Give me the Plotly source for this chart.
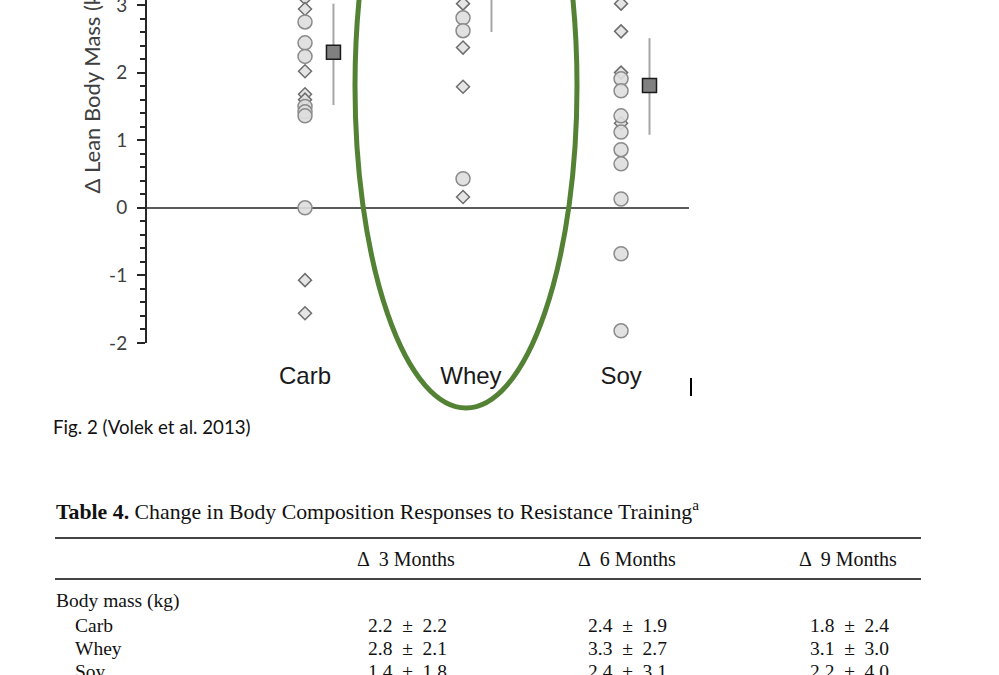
import plotly.graph_objects as go

# ---------------- data ----------------
categories = ["Carb", "Whey", "Soy"]

carb_circle = [2.75, 2.44, 2.24, 1.50, 1.42, 1.36, 0.0]
carb_diamond = [3.10, 2.94, 2.02, 1.68, 1.60, -1.07, -1.56]
whey_circle = [2.81, 2.62, 0.43]
whey_diamond = [3.02, 2.37, 1.79, 0.16]
soy_circle = [1.91, 1.73, 1.36, 1.12, 0.86, 0.65, 0.13, -0.68, -1.82]
soy_diamond = [3.02, 2.61, 2.00, 1.25]

group_means = [2.30, 3.30, 1.81]
err_plus = [0.72, 0.70, 0.70]
err_minus = [0.78, 0.70, 0.73]

y_ticks = [-2, -1, 0, 1, 2, 3]
y_tick_text = ["-2", "-1", "0", "1", "2", "3"]

table_title = "<b>Table 4.</b> Change in Body Composition Responses to Resistance Training<sup>a</sup>"
table_cols = ["Δ 3 Months", "Δ 6 Months", "Δ 9 Months"]
table_section = "Body mass (kg)"
table_rows = ["Carb", "Whey", "Soy"]
vals_3m = ["2.2 ± 2.2", "2.8 ± 2.1", "1.4 ± 1.8"]
vals_6m = ["2.4 ± 1.9", "3.3 ± 2.7", "2.4 ± 3.1"]
vals_9m = ["1.8 ± 2.4", "3.1 ± 3.0", "2.2 ± 4.0"]
caption = "Fig. 2 (Volek et al. 2013)"

# ---------------- layout geometry ----------------
W, H = 999, 675
L, R, T, B = 147, 689, 0, 343  # plot area in pixels


def px(x):
    return (x - L) / (R - L)


def py(y):
    return (B - y) / (B - T)


fig = go.Figure()

circle_style = dict(symbol="circle", size=14, color="rgba(222,222,222,0.9)",
                    line=dict(color="#8a8a8a", width=1.5))
diamond_style = dict(symbol="diamond", size=10, color="rgba(226,226,226,0.9)",
                     line=dict(color="#6e6e6e", width=1.5))

groups = [(carb_circle, carb_diamond), (whey_circle, whey_diamond), (soy_circle, soy_diamond)]
for gi, (circ, diam) in enumerate(groups):
    xpos = gi + 1
    fig.add_trace(go.Scatter(x=[xpos] * len(diam), y=diam, mode="markers",
                             marker=diamond_style, showlegend=False))
    fig.add_trace(go.Scatter(x=[xpos] * len(circ), y=circ, mode="markers",
                             marker=circle_style, showlegend=False))

mean_offset = 0.18
fig.add_trace(go.Scatter(
    x=[i + 1 + mean_offset for i in range(len(categories))], y=group_means,
    mode="markers",
    marker=dict(symbol="square", size=14, color="#808080",
                line=dict(color="#1a1a1a", width=1.5)),
    error_y=dict(type="data", symmetric=False, array=err_plus, arrayminus=err_minus,
                 color="#a6a6a6", thickness=2, width=0),
    showlegend=False))

label_shift = [0.0, 0.05, 0.0]
fig.update_xaxes(range=[0, 3.43], automargin=False,
                 tickvals=[i + 1 + s for i, s in enumerate(label_shift)], ticktext=categories,
                 showline=False, showgrid=False, zeroline=False, ticks="",
                 ticklabelstandoff=16,
                 tickfont=dict(family="Liberation Sans", size=24, color="#1a1a1a"))
fig.update_yaxes(range=[-2, 3.074], tickvals=y_ticks, ticktext=y_tick_text,
                 automargin=False,
                 showline=True, linecolor="#262626", linewidth=2,
                 ticks="outside", ticklen=8, tickwidth=2, tickcolor="#262626",
                 ticklabelstandoff=6, ticklabeloverflow="allow",
                 minor=dict(tick0=0, dtick=0.2, ticks="outside", ticklen=5,
                            tickwidth=1.5, tickcolor="#262626", showgrid=False),
                 showgrid=False, zeroline=True, zerolinecolor="#5a5a5a", zerolinewidth=2,
                 tickfont=dict(family="Lato", size=19, color="#404040"))

annotations = []
annotations.append(dict(text="Δ Lean Body Mass (kg)", textangle=-90,
                        x=px(91), y=py(196), xref="paper", yref="paper",
                        xanchor="center", yanchor="bottom", showarrow=False,
                        font=dict(family="Lato", size=22, color="#404040")))
annotations.append(dict(text=caption, x=px(51), y=py(427), xref="paper", yref="paper",
                        xanchor="left", yanchor="middle", showarrow=False,
                        font=dict(family="Lato", size=18.7, color="#111111")))

serif = "Liberation Serif"
annotations.append(dict(text=table_title, x=px(54), y=py(510), xref="paper", yref="paper",
                        xanchor="left", yanchor="middle", showarrow=False,
                        font=dict(family=serif, size=21.8, color="#111111")))
col_x = [406, 627, 848]
for cx, ct in zip(col_x, table_cols):
    annotations.append(dict(text=ct.replace("Δ ", "Δ  "), x=px(cx), y=py(559),
                            xref="paper", yref="paper",
                            xanchor="center", yanchor="middle", showarrow=False,
                            font=dict(family=serif, size=20, color="#111111")))
annotations.append(dict(text=table_section, x=px(54), y=py(601), xref="paper", yref="paper",
                        xanchor="left", yanchor="middle", showarrow=False,
                        font=dict(family=serif, size=19.5, color="#111111")))
row_y = [625, 648, 671]
for ry, rl in zip(row_y, table_rows):
    annotations.append(dict(text=rl, x=px(73), y=py(ry), xref="paper", yref="paper",
                            xanchor="left", yanchor="middle", showarrow=False,
                            font=dict(family=serif, size=19.5, color="#111111")))
for cx, col_vals in zip([407, 627, 849], [vals_3m, vals_6m, vals_9m]):
    for ry, v in zip(row_y, col_vals):
        annotations.append(dict(text=v.replace(" ± ", "  ±  "), x=px(cx), y=py(ry),
                                xref="paper", yref="paper",
                                xanchor="center", yanchor="middle", showarrow=False,
                                font=dict(family=serif, size=19.5, color="#111111")))

shapes = [
    # green highlight ellipse around Whey
    dict(type="circle", xref="paper", yref="paper",
         x0=px(355), x1=px(577), y0=py(408), y1=py(-236),
         line=dict(color="#548235", width=5), layer="above"),
    # text cursor
    dict(type="line", xref="paper", yref="paper", x0=px(691), x1=px(691),
         y0=py(378), y1=py(396), line=dict(color="#000000", width=2)),
    # table rules
    dict(type="line", xref="paper", yref="paper", x0=px(55), x1=px(921),
         y0=py(538), y1=py(538), line=dict(color="#444444", width=2)),
    dict(type="line", xref="paper", yref="paper", x0=px(55), x1=px(921),
         y0=py(579), y1=py(579), line=dict(color="#444444", width=2)),
]

fig.update_layout(width=W, height=H, margin=dict(l=L, r=W - R, t=T, b=H - B),
                  paper_bgcolor="white", plot_bgcolor="white",
                  annotations=annotations, shapes=shapes, showlegend=False)

fig.write_html("out.html")
